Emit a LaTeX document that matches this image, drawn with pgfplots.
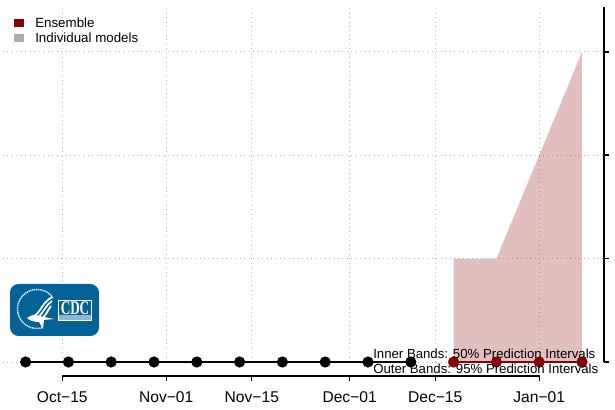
\documentclass[border=0pt]{standalone}
\usepackage{fontspec}
\setmainfont{Liberation Sans}
\newfontfamily\serifb{Liberation Serif}[Scale=1]
\usepackage{pgfplots}
\pgfplotsset{compat=1.18}
\definecolor{ens}{RGB}{139,0,0}
\definecolor{cdcblue}{RGB}{5,98,151}
\definecolor{gridc}{RGB}{185,185,185}
\begin{document}
\begin{tikzpicture}[x=1pt,y=1pt]
\useasboundingbox (0,0) rectangle (461.25,307.5);
% main axis: days from Oct-15, y unlabelled
\begin{axis}[
  at={(2.25pt,36pt)}, anchor=south west, scale only axis,
  width=450.75pt, height=266.25pt,
  xmin=-9.70, xmax=88.60, ymin=0, ymax=3.435,
  axis x line*=bottom,
  axis y line=right,
  x axis line style={draw=none},
  y axis line style={-,line width=1.5pt,black},
  xtick={0,17,31,47,61,78},
  xticklabels={},
  ytick={0,1,2,3},
  yticklabels={},
  tick align=outside,
  x tick style={draw=none},
  y tick style={line width=1.2pt,black},
  major tick length=3.6pt,
  clip=false,
  grid=major,
  major grid style={gridc,line width=0.7pt,dash pattern=on 0.75pt off 2.6pt},
]
\addplot[draw=none,fill=ens,fill opacity=0.25] coordinates {(64,0)(64,1)(71,1)(78,2)(85,3)(85,0)} -- cycle;
\addplot[black,line width=1.5pt,mark=*,mark size=3.4pt,mark options={solid,fill=black}] coordinates {(-6,0)(1,0)(8,0)(15,0)(22,0)(29,0)(36,0)(43,0)(50,0)(57,0)};
\addplot[ens,line width=1.5pt,mark=*,mark size=3.4pt,mark options={solid,fill=ens}] coordinates {(64,0)(71,0)(78,0)(85,0)};
\end{axis}
% bottom date axis
\begin{axis}[
  at={(2.25pt,25.5pt)}, anchor=south west, scale only axis,
  width=450.75pt, height=20pt,
  xmin=-9.70, xmax=88.60, ymin=0, ymax=1,
  axis x line*=bottom,
  axis y line=none,
  x axis line style={draw=none},
  xtick={0,17,31,47,61,78},
  xticklabels={Oct−15,Nov−01,Nov−15,Dec−01,Dec−15,Jan−01},
  tick align=outside,
  x tick style={line width=0.9pt,black},
  major tick length=3.4pt,
  tick label style={font=\fontsize{11.7pt}{13pt}\selectfont},
  xticklabel style={yshift=-4.6pt},
  clip=false,
]
\addplot[black,line width=0.9pt,line cap=rect] coordinates {(0,0)(78,0)};
\end{axis}
% annotation, legend and logo in pixel coordinates
\begin{scope}[x=0.75pt,y=-0.75pt,yshift=307.5pt]
\node[anchor=west,inner sep=0pt,font=\fontsize{9.9pt}{11pt}\selectfont] at (373,353.5) {Inner Bands: 50\% Prediction Intervals};
\node[anchor=west,inner sep=0pt,font=\fontsize{9.9pt}{11pt}\selectfont] at (373,368.5) {Outer Bands: 95\% Prediction Intervals};
\fill[ens] (14,19) rectangle (24,27);
\fill[black!33] (14,34) rectangle (24,42);
\node[anchor=west,inner sep=0pt,font=\fontsize{10pt}{11pt}\selectfont] at (35,22.5) {Ensemble};
\node[anchor=west,inner sep=0pt,font=\fontsize{10pt}{11pt}\selectfont] at (35,37.5) {Individual models};
% logo
\fill[cdcblue,rounded corners=6.5pt] (10,284) rectangle (99,336);
\draw[white!85!cdcblue,line width=1.1pt,dash pattern=on 0.9pt off 0.5pt] (37,309) ++(-35:19.5) arc[start angle=-35,end angle=-285,radius=19.5];
\draw[white,line width=1.3pt] (34,316) .. controls (41,312) and (41,304) .. (52,297);
\draw[white,line width=1.3pt] (37,318) .. controls (44,313) and (44,307) .. (52,301);
\draw[white,line width=1.3pt] (40,320) .. controls (47,315) and (47,311) .. (51,306);
\fill[white] (27,318) .. controls (31,315) and (35,314) .. (39,316) -- (54,319) -- (44,320) -- (43,329) -- (39,322) .. controls (35,322) and (30,321) .. (27,318) -- cycle;
\draw[white,line width=0.6pt] (58.5,300.5) rectangle (91.5,320.5);
\fill[white,opacity=0.55] (58.5,315) rectangle (91.5,320.5);
\node[white,inner sep=0pt,xscale=0.68,font=\serifb\bfseries\fontsize{14.5pt}{15pt}\selectfont] at (75,308.5) {CDC};
\end{scope}
\end{tikzpicture}
\end{document}
